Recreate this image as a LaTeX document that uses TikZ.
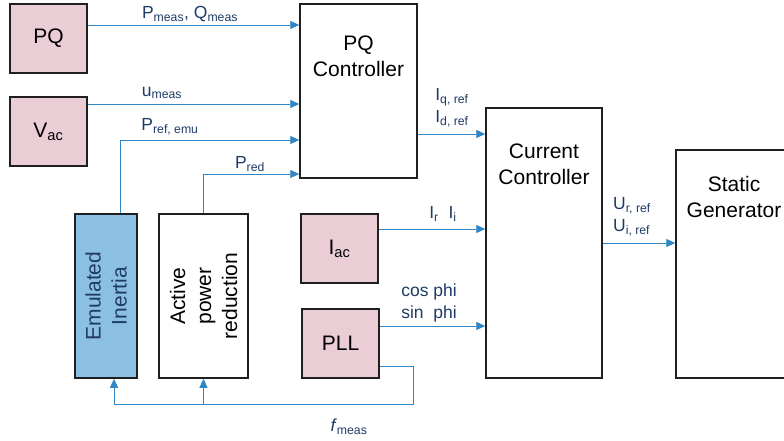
\documentclass[tikz,border=0pt]{standalone}
\usepackage{fontspec}
\setmainfont{Liberation Sans}
\usepackage{tikz}
\usetikzlibrary{positioning}
\usetikzlibrary{arrows.meta}

\definecolor{srcpink}{HTML}{EBCDD6}
\definecolor{inertiablue}{HTML}{8BBFE3}
\definecolor{sigblue}{HTML}{2F86C6}
\definecolor{labelblue}{HTML}{1F3B66}

\begin{document}
\begin{tikzpicture}[x=1pt,y=-1pt]
    \tikzset{
    block/.style={
        draw=black!88, line width=1.5pt, fill=white,
        inner sep=0pt, align=center,
        font=\fontsize{21}{26}\selectfont
    },
    source/.style={block, fill=srcpink},
    boxtitle/.style={align=center, inner sep=0pt, font=\fontsize{21}{26}\selectfont},
    signal/.style={-{Triangle[length=9pt,width=8pt]}, sigblue, line width=0.9pt},
    siglabel/.style={text=labelblue, align=left, inner sep=0pt, font=\fontsize{17.5}{22}\selectfont}
    }
        \clip (0,0) rectangle (784,441);

        % sources
        \node (pq)[source, minimum width=77pt, minimum height=69pt] at (48.5,38.5) {PQ};
        \node (vac)[source, minimum width=77pt, minimum height=69pt] at (48.5,131.5) {V\textsubscript{ac}};
        \node (iac)[source, minimum width=77pt, minimum height=69pt] at (339.5,248.5) {I\textsubscript{ac}};
        \node (pll)[source, minimum width=77pt, minimum height=69pt] at (340.5,343.5) {PLL};

        % controllers
        \node (pqc)[block, minimum width=117pt, minimum height=174pt] at (358.5,91) {};
        \node (pqctext)[boxtitle, below=32pt of pqc.north] {PQ\\Controller};
        \node (cc)[block, minimum width=116pt, minimum height=270pt] at (544,243) {};
        \node (cctext)[boxtitle, below=36pt of cc.north] {Current\\Controller};
        \node (sg)[block, minimum width=116pt, minimum height=228pt] at (734,264) {};
        \node (sgtext)[boxtitle, below=27pt of sg.north] {Static\\Generator};

        % vertical blocks
        \node (ei)[block, fill=inertiablue, text=labelblue, rotate=90, minimum width=164pt, minimum height=62pt] at (106,296) {Emulated\\Inertia};
        \node (apr)[block, rotate=90, minimum width=164pt, minimum height=89pt] at (203.5,296) {Active\\power\\reduction};

        % signals
        \draw[signal] ([yshift=13.5pt]pq.east) -- ([yshift=13.5pt]pq.east -| pqc.west);
        \draw[signal] ([yshift=27.5pt]vac.east) -- ([yshift=27.5pt]vac.east -| pqc.west);
        \draw[signal] ([xshift=14pt]ei.east) |- ([yshift=-49pt]pqc.west);
        \draw[signal] (apr.east) |- ([yshift=-83pt]pqc.west);
        \draw[signal] ([yshift=-43pt]pqc.east) -- ([yshift=-43pt]pqc.east -| cc.west);
        \draw[signal] ([yshift=19.5pt]iac.east) -- ([yshift=19.5pt]iac.east -| cc.west);
        \draw[signal] ([yshift=17.5pt]pll.east) -- ([yshift=17.5pt]pll.east -| cc.west);
        \draw[signal] (cc.east) -- (cc.east -| sg.west);

        % frequency feedback
        \coordinate (fcorner) at (413,404);
        \draw[signal] ([yshift=-22.5pt]pll.east) -| (fcorner) -| ([xshift=8pt]ei.west);
        \draw[signal] (apr.west |- fcorner) -- (apr.west);

        % signal labels
        \node (pqmeas)[siglabel] at (190,14) {P\textsubscript{meas}, Q\textsubscript{meas}};
        \node (umeas)[siglabel] at (162,93) {u\textsubscript{meas}};
        \node (prefemu)[siglabel] at (170,127) {P\textsubscript{ref, emu}};
        \node (pred)[siglabel] at (250,164) {P\textsubscript{red}};
        \node (idqref)[siglabel] at (452,108) {I\textsubscript{q, ref}\\I\textsubscript{d, ref}};
        \node (iri)[siglabel] at (443,214) {I\textsubscript{r}\ \ I\textsubscript{i}};
        \node (cosphi)[siglabel] at (429,303) {cos phi\\sin\ \ phi};
        \node (uref)[siglabel] at (632,217) {U\textsubscript{r, ref}\\U\textsubscript{i, ref}};
        \node (fmeas)[siglabel] at (349,427) {\textit{f}\textsubscript{meas}};

    \end{tikzpicture}
\end{document}
